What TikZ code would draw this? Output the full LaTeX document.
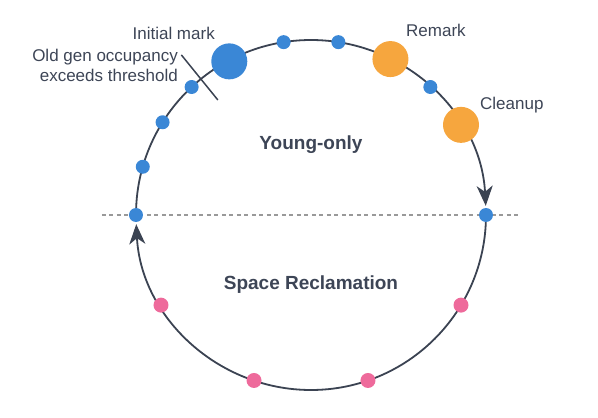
\documentclass[tikz,border=0pt]{standalone}
\usepackage{fontspec}
\setmainfont{Liberation Sans}
\usetikzlibrary{arrows.meta,backgrounds}

\definecolor{gcblue}{HTML}{3A87D6}
\definecolor{gcorange}{HTML}{F6A63E}
\definecolor{gcpink}{HTML}{EE6A9B}
\definecolor{gcring}{HTML}{3B4352}
\definecolor{gctext}{HTML}{3D4556}

\begin{document}
\begin{tikzpicture}[
    x=1pt, y=1pt,
    dot/.style={
        circle,
        inner sep=0pt,
        minimum size=14pt,
        fill=gcblue
    },
    bigdot/.style={
        circle,
        inner sep=0pt,
        minimum size=36pt,
        fill=#1
    },
    pinkdot/.style={
        circle,
        inner sep=0pt,
        minimum size=15pt,
        fill=gcpink
    },
    ring/.style={
        line width=1.8pt,
        draw=gcring,
        -{Stealth[length=20pt, width=16pt, inset=6pt]}
    },
    phase/.style={
        font=\fontsize{17}{20}\selectfont,
        text=gctext,
        inner sep=0pt
    },
    region/.style={
        font=\fontsize{19}{22}\selectfont\bfseries,
        text=gctext,
        inner sep=0pt
    }
]
\useasboundingbox (-311,-203) rectangle (287,215);

% Young-only dots
\node[dot] (yleft) at (180:175) {};
\node[dot] (y1) at (164:175) {};
\node[dot] (y2) at (148:175) {};
\node[dot] (y3) at (133:175) {};
\node[bigdot=gcblue] (init) at (118:174) {};
\node[dot] (y4) at (99:175) {};
\node[dot] (y5) at (81:175) {};
\node[bigdot=gcorange] (remark) at (63:175) {};
\node[dot] (y6) at (47:175) {};
\node[bigdot=gcorange] (cleanup) at (31:175) {};
\node[dot] (yright) at (0:175) {};

% Space reclamation dots
\node[pinkdot] (s1) at (-31:175) {};
\node[pinkdot] (s2) at (-71:175) {};
\node[pinkdot] (s3) at (-109:175) {};
\node[pinkdot] (s4) at (-149:175) {};

% Arrows
\begin{pgfonlayer}{background}
\coordinate (dl) at (-209,0);
\coordinate (dr) at (207,0);
\draw[gray!80, line width=1.3pt, dash pattern=on 4pt off 3.5pt] (dl) -- (dr);
\draw[ring] (yleft.center) arc[start angle=180, end angle=3, radius=175];
\draw[ring] (yright.center) arc[start angle=0, end angle=-177, radius=175];
\end{pgfonlayer}

% Threshold tick
\coordinate (tin) at (129:148);
\coordinate (tout) at (129:206);
\draw[gcring, line width=1.5pt] (tin) -- (tout);

% Labels
\node[phase, anchor=east] (initlbl) at (-96,182) {Initial mark};
\node[phase, anchor=east, align=right] (oldlbl) at (-133,150) {Old gen occupancy\\exceeds threshold};
\node[phase, anchor=west] (remlbl) at (95,185) {Remark};
\node[phase, anchor=west] (cleanlbl) at (169,110) {Cleanup};
\node[region] (young) at (0,70) {Young-only};
\node[region] (space) at (0,-70) {Space Reclamation};

\end{tikzpicture}
\end{document}
